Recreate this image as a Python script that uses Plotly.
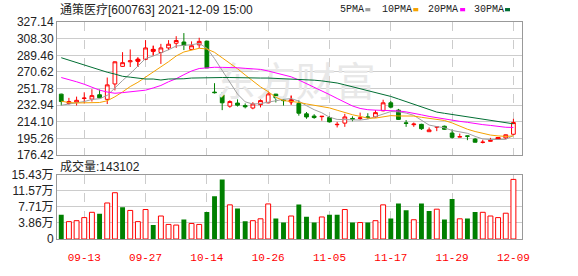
import plotly.graph_objects as go

# ---------------- data ----------------
dates = ["09-08", "09-09", "09-10", "09-13", "09-14", "09-15", "09-16", "09-17", "09-22", "09-23",
         "09-24", "09-27", "09-28", "09-29", "09-30", "10-08", "10-11", "10-12", "10-13", "10-14",
         "10-15", "10-18", "10-19", "10-20", "10-21", "10-22", "10-25", "10-26", "10-27", "10-28",
         "10-29", "11-01", "11-02", "11-03", "11-04", "11-05", "11-08", "11-09", "11-10", "11-11",
         "11-12", "11-15", "11-16", "11-17", "11-18", "11-19", "11-22", "11-23", "11-24", "11-25",
         "11-26", "11-29", "11-30", "12-01", "12-02", "12-03", "12-06", "12-07", "12-08", "12-09"]
tick_dates = ["09-13", "09-27", "10-14", "10-26", "11-05", "11-17", "11-29", "12-09"]

opens = [245.5, 235.0, 236.4, 240.6, 239.9, 244.8, 239.6, 257.0, 276.9, 282.1,
         282.8, 284.9, 294.0, 292.6, 297.8, 303.1, 304.5, 296.1, 301.3, 305.5,
         247.8, 244.8, 231.9, 235.4, 232.6, 229.8, 233.6, 235.7, 245.5, 238.9,
         236.8, 235.0, 223.2, 220.7, 220.0, 219.0, 210.9, 212.7, 218.0, 218.0,
         219.7, 219.7, 226.7, 235.7, 227.4, 213.0, 210.9, 211.3, 203.0, 208.2,
         209.2, 201.5, 197.0, 198.2, 194.6, 190.9, 192.1, 194.2, 196.0, 200.1]
highs = [246.0, 241.3, 242.7, 247.6, 251.1, 250.7, 264.3, 282.5, 293.0, 296.1,
         287.0, 306.6, 300.3, 302.4, 306.6, 311.1, 314.6, 305.2, 309.3, 305.8,
         257.9, 247.6, 238.5, 239.6, 235.0, 236.4, 239.9, 253.2, 245.8, 243.1,
         243.8, 238.5, 225.3, 222.8, 220.6, 220.4, 214.1, 223.2, 220.4, 224.6,
         223.9, 227.4, 239.2, 237.8, 228.8, 216.2, 213.4, 212.0, 207.8, 208.6,
         209.9, 205.7, 200.8, 198.6, 196.0, 193.9, 196.0, 197.0, 199.8, 217.6]
lows = [232.6, 233.6, 232.6, 235.0, 237.1, 241.0, 234.3, 249.7, 276.2, 276.2,
        276.2, 283.9, 289.1, 279.7, 295.4, 297.8, 295.4, 295.4, 297.5, 275.0,
        246.2, 227.4, 230.1, 231.5, 229.4, 228.4, 230.5, 235.0, 236.1, 232.6,
        233.6, 221.1, 217.6, 217.6, 215.5, 213.4, 207.8, 208.5, 214.8, 216.2,
        217.6, 219.0, 226.0, 229.4, 216.2, 208.5, 208.5, 205.0, 203.0, 203.6,
        205.0, 195.2, 196.9, 193.4, 190.8, 189.7, 191.8, 194.0, 194.6, 199.4]
closes = [237.1, 237.1, 238.5, 241.0, 243.8, 241.3, 256.0, 282.1, 281.1, 283.2,
          284.9, 297.8, 296.1, 297.8, 302.0, 306.2, 300.6, 300.3, 305.2, 275.2,
          247.2, 235.7, 237.1, 233.0, 231.2, 234.3, 238.2, 245.8, 241.3, 238.2,
          238.9, 223.9, 219.7, 219.0, 220.4, 214.1, 211.3, 219.7, 217.2, 218.6,
          219.3, 224.6, 235.7, 230.8, 216.9, 212.4, 211.6, 206.4, 205.0, 208.5,
          205.7, 196.6, 197.3, 197.9, 191.1, 191.1, 193.2, 196.4, 199.5, 213.4]
filled_up = ["09-24", "09-28", "10-29", "12-07"]

ma5 = [232.9, 234.3, 235.7, 237.1, 239.5, 240.3, 244.1, 252.8, 260.9, 268.7,
       277.5, 285.8, 288.6, 292.0, 295.7, 300.0, 300.5, 301.4, 302.9, 297.5,
       285.7, 272.7, 260.1, 245.6, 236.8, 234.3, 234.8, 236.5, 238.2, 239.6,
       240.5, 237.6, 232.4, 227.9, 224.4, 219.4, 216.9, 216.9, 216.5, 216.2,
       217.2, 219.9, 223.1, 225.8, 225.5, 224.1, 221.5, 215.6, 210.5, 208.8,
       207.4, 204.4, 202.6, 201.2, 197.7, 194.8, 194.1, 193.9, 194.3, 198.7]
ma10 = [237.5, 236.0, 235.5, 235.4, 235.4, 236.0, 238.0, 242.5, 248.0, 254.1,
        258.9, 265.0, 270.7, 276.4, 282.2, 288.7, 293.2, 295.0, 297.4, 296.6,
        292.8, 286.6, 280.7, 274.2, 267.2, 260.0, 253.7, 248.3, 241.9, 238.2,
        237.4, 236.2, 234.4, 233.0, 232.0, 229.9, 227.3, 224.6, 222.2, 220.3,
        218.3, 218.4, 220.0, 221.2, 220.8, 220.6, 220.7, 219.3, 218.1, 217.1,
        215.7, 212.9, 209.1, 205.8, 203.2, 201.1, 199.2, 198.2, 197.7, 198.2]
ma20 = [264.3, 262.2, 259.5, 256.7, 253.5, 250.0, 247.9, 246.5, 247.2, 247.9,
        249.0, 250.0, 252.5, 255.3, 259.5, 263.0, 267.5, 271.7, 274.5, 275.4,
        275.9, 275.8, 275.8, 275.4, 274.7, 274.4, 273.5, 271.7, 269.7, 267.4,
        265.1, 261.5, 257.6, 253.7, 249.6, 245.0, 240.6, 236.5, 232.1, 229.3,
        227.9, 227.4, 227.3, 227.2, 226.5, 225.4, 224.1, 222.1, 220.3, 218.8,
        217.1, 215.8, 214.7, 213.6, 212.1, 211.0, 210.1, 208.9, 208.0, 207.8]
ma30 = [286.7, 283.9, 281.4, 278.6, 275.2, 272.7, 270.3, 268.2, 265.7, 264.7,
        263.3, 262.6, 262.6, 261.5, 262.6, 262.6, 262.9, 263.7, 264.0, 264.3,
        264.3, 264.3, 264.3, 264.0, 264.0, 264.0, 263.7, 263.7, 263.3, 263.0,
        263.1, 262.6, 262.0, 261.3, 260.5, 259.6, 258.1, 256.0, 253.9, 251.7,
        249.5, 247.1, 245.1, 242.9, 240.0, 236.9, 233.9, 230.8, 227.5, 225.2,
        223.8, 222.5, 221.2, 220.0, 218.7, 217.2, 215.7, 214.1, 212.7, 211.9]

volumes = [5.81, 4.17, 4.40, 5.14, 6.41, 6.04, 8.65, 11.11, 7.60, 6.86,
           4.17, 7.08, 3.35, 5.52, 3.50, 3.35, 4.70, 3.73, 3.50, 6.49,
           10.29, 14.31, 8.20, 7.30, 4.25, 4.40, 4.85, 8.42, 4.92, 3.95,
           5.52, 8.27, 5.37, 3.95, 5.29, 5.81, 5.81, 7.08, 3.95, 3.95,
           3.95, 4.40, 8.20, 4.92, 8.50, 6.93, 4.62, 8.50, 6.71, 7.16,
           4.70, 9.62, 4.85, 4.92, 6.49, 6.41, 5.52, 5.14, 6.19, 14.31]
vol_dir = list("drrrrdrrdr" "rrdrrrdrrd" "ddrddrrrdd" "rdddrddrdr" "drrdddrddr" "ddrddrrrrr")

price_ticks = [176.42, 195.26, 214.10, 232.94, 251.78, 270.62, 289.46, 308.30, 327.14]
vol_ticks = [0, 3.86, 7.71, 11.57, 15.43]
vol_tick_text = ["0", "3.86万", "7.71万", "11.57万", "15.43万"]
title_text = "通策医疗[600763] 2021-12-09 15:00"
vol_title = "成交量:143102"
ma_names = ["5PMA", "10PMA", "20PMA", "30PMA"]

# ---------------- styling ----------------
RED = "#ff0000"
GREEN = "#008000"
MA_COLORS = ["#a0a0a0", "#f5a200", "#ff00ff", "#006e33"]
GRID = "#cccccc"
BORDER = "#999999"
W, H = 578, 276
L, R, T, B = 56, 56, 22, 21
PW, PH = W - L - R, H - T - B


def px(xp):
    return (xp - L) / PW


def py(yp):
    return (H - B - yp) / PH


idx = list(range(len(dates)))
tick_idx = [dates.index(d) for d in tick_dates]

fig = go.Figure()

# watermark (drawn first, behind everything)
fig.add_trace(go.Scatter(x=[30.6], y=[254.5], mode="text", text=["东方财富"],
                         textfont=dict(family="Noto Sans CJK SC", size=40, color="#e8e8e8"),
                         hoverinfo="skip", showlegend=False, xaxis="x", yaxis="y"))

fig.add_trace(go.Candlestick(
    x=idx, open=opens, high=highs, low=lows, close=closes,
    increasing=dict(line=dict(color=RED, width=1), fillcolor="#ffffff"),
    decreasing=dict(line=dict(color=GREEN, width=1), fillcolor=GREEN),
    whiskerwidth=0, hoverinfo="skip", showlegend=False, xaxis="x", yaxis="y"))

fmask = [d in filled_up for d in dates]
fig.add_trace(go.Candlestick(
    x=idx,
    open=[o if m else None for o, m in zip(opens, fmask)],
    high=[v if m else None for v, m in zip(highs, fmask)],
    low=[v if m else None for v, m in zip(lows, fmask)],
    close=[v if m else None for v, m in zip(closes, fmask)],
    increasing=dict(line=dict(color=RED, width=1), fillcolor=RED),
    decreasing=dict(line=dict(color=GREEN, width=1), fillcolor=GREEN),
    whiskerwidth=0, hoverinfo="skip", showlegend=False, xaxis="x", yaxis="y"))

for series, col in zip([ma5, ma10, ma20, ma30], MA_COLORS):
    fig.add_trace(go.Scatter(x=idx, y=series, mode="lines", line=dict(color=col, width=1),
                             hoverinfo="skip", showlegend=False, xaxis="x", yaxis="y"))

up_x = [i for i in idx if vol_dir[i] == "r"]
dn_x = [i for i in idx if vol_dir[i] == "d"]
fig.add_trace(go.Bar(x=up_x, y=[volumes[i] for i in up_x], width=0.64,
                     marker=dict(color="#ffffff", line=dict(color=RED, width=1)),
                     hoverinfo="skip", showlegend=False, xaxis="x2", yaxis="y2"))
fig.add_trace(go.Bar(x=dn_x, y=[volumes[i] for i in dn_x], width=0.64,
                     marker=dict(color=GREEN, line=dict(color=GREEN, width=0)),
                     hoverinfo="skip", showlegend=False, xaxis="x2", yaxis="y2"))

xr = [-0.555, 60.12]
tickfont = dict(family="Liberation Sans, Noto Sans CJK SC", size=12, color="#222222")
main_dom = [(H - B - 165) / PH, 1.0]
vol_dom = [0.0, (H - B - 186) / PH]

fig.update_layout(
    width=W, height=H, margin=dict(l=L, r=R, t=T, b=B),
    paper_bgcolor="#ffffff", plot_bgcolor="#ffffff",
    barmode="overlay", showlegend=False,
    xaxis=dict(domain=[0, 1], range=xr, anchor="y", tickvals=tick_idx, showticklabels=False,
               showgrid=True, gridcolor=GRID, griddash="dash", gridwidth=1,
               showline=True, linecolor=BORDER, linewidth=1, mirror=True, zeroline=False,
               rangeslider=dict(visible=False), fixedrange=True),
    yaxis=dict(domain=main_dom, range=[price_ticks[0], price_ticks[-1]], tickvals=price_ticks,
               ticktext=["%.2f" % v for v in price_ticks], tickfont=tickfont,
               showgrid=True, gridcolor=GRID, gridwidth=1, zeroline=False,
               showline=True, linecolor=BORDER, linewidth=1, mirror=True, ticks=""),
    xaxis2=dict(domain=[0, 1], range=xr, anchor="y2", matches="x", tickvals=tick_idx,
                ticktext=tick_dates,
                tickfont=dict(family="Liberation Mono", size=11, color=RED),
                showgrid=True, gridcolor=GRID, griddash="dash", gridwidth=1,
                showline=True, linecolor=BORDER, linewidth=1, mirror=True, zeroline=False,
                ticks="", ticklabelstandoff=8),
    yaxis2=dict(domain=vol_dom, range=[0, 15.43], tickvals=vol_ticks, ticktext=vol_tick_text,
                tickfont=tickfont, showgrid=True, gridcolor=GRID, gridwidth=1, zeroline=False,
                showline=True, linecolor=BORDER, linewidth=1, mirror=True, ticks=""),
)

ann = []
ann.append(dict(x=px(57), y=py(9.5), xref="paper", yref="paper", text=title_text,
                showarrow=False, xanchor="left", yanchor="middle",
                font=dict(family="Liberation Sans, Noto Sans CJK SC", size=12, color="#222222")))
ann.append(dict(x=px(57), y=py(177), xref="paper", yref="paper", text=vol_title,
                showarrow=False, xanchor="left", yanchor="middle",
                font=dict(family="Liberation Sans, Noto Sans CJK SC", size=12, color="#222222")))
legend_x = [338, 380, 426, 472]
square_x = [365, 413, 460, 505]
shapes = []
for name, lx, sx, col in zip(ma_names, legend_x, square_x, MA_COLORS):
    ann.append(dict(x=px(lx), y=py(9), xref="paper", yref="paper", text=name,
                    showarrow=False, xanchor="left", yanchor="middle",
                    font=dict(family="Liberation Mono", size=10, color="#222222")))
    shapes.append(dict(type="rect", xref="paper", yref="paper",
                       x0=px(sx), x1=px(sx + 5), y0=py(10.5), y1=py(7),
                       line=dict(width=0), fillcolor=col))
fig.update_layout(annotations=ann, shapes=shapes)

fig.write_html("out.html")
